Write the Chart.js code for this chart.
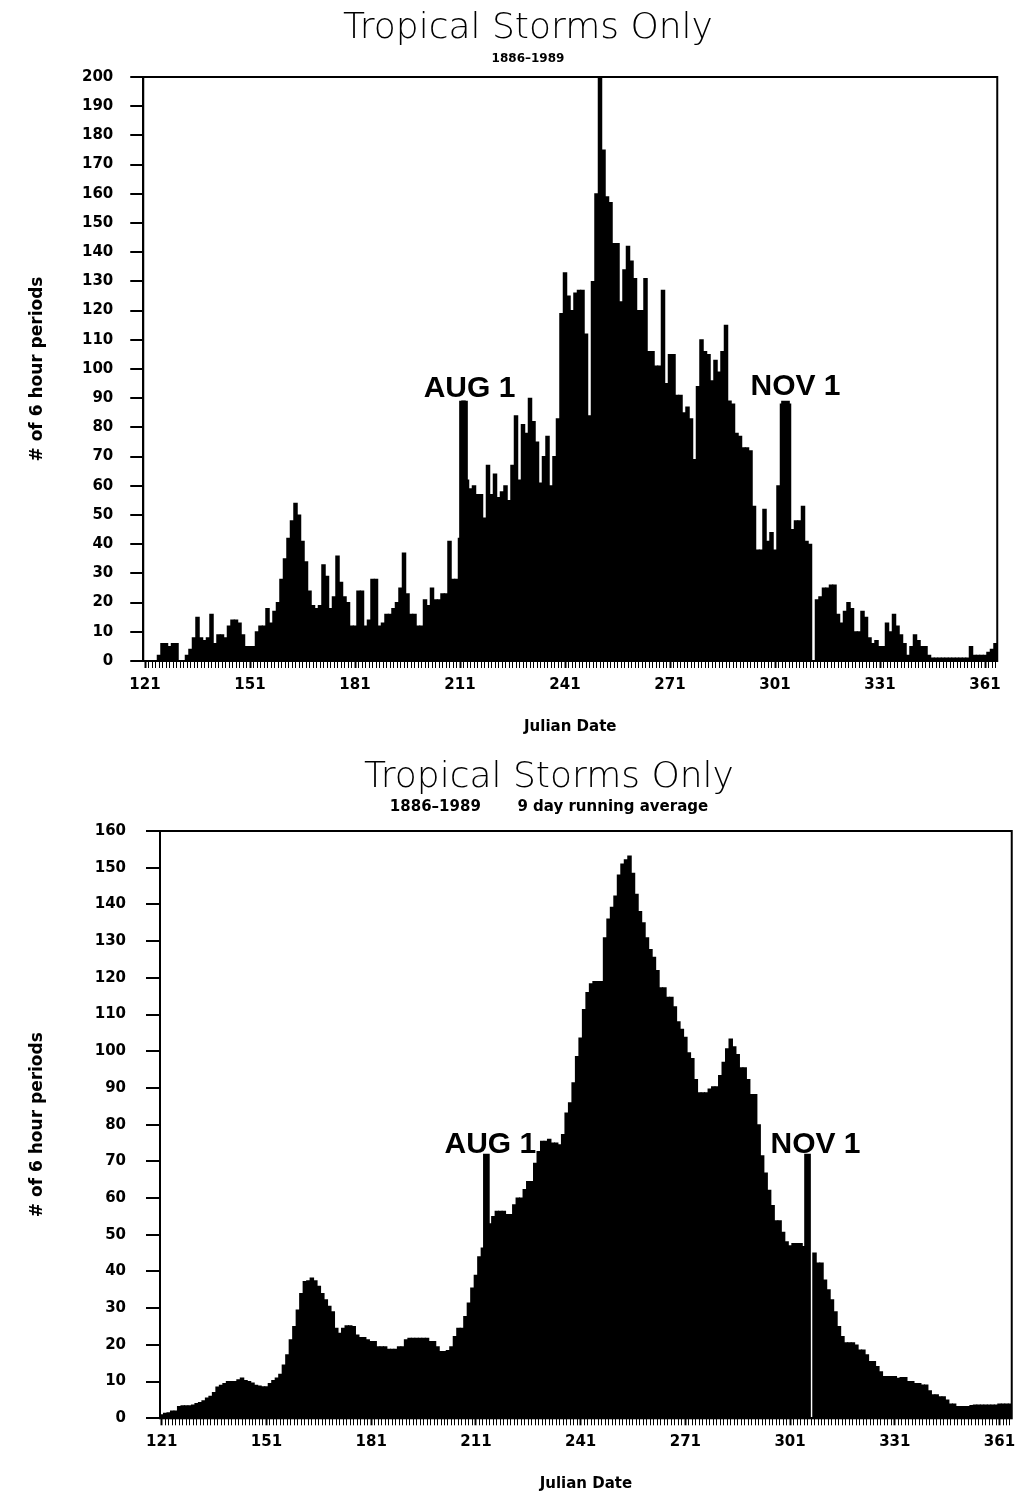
<!DOCTYPE html>
<html>
<head>
<meta charset="utf-8">
<title>Tropical Storms Only</title>
<script src="https://cdn.jsdelivr.net/npm/chart.js@4.4.1/dist/chart.umd.min.js"></script>
<style>
  html, body { margin: 0; padding: 0; background: #fff; }
  body { width: 1018px; height: 1494px; position: relative; overflow: hidden; }
  canvas { position: absolute; left: 0; }
  #dailyChart { top: 0; }
  #averageChart { top: 740px; }
</style>
</head>
<body>
<canvas id="dailyChart" width="1018" height="740"></canvas>
<canvas id="averageChart" width="1018" height="754"></canvas>
<script>
// Julian days on the x axis, May 1 (121) through day 364
const firstDay = 121;
const lastDay = 364;
const days = [];
for (let d = firstDay; d <= lastDay; d++) days.push(d);

// Labelled days on the x axis
const dayTickLabels = [121, 151, 181, 211, 241, 271, 301, 331, 361];

// Number of 6 hour periods per day, 1886-1989 (one value per day, 121..364)
const dailyCounts = [
  0, 0, 0, 0, 2, 6, 6, 5, 6, 6,
  0, 0, 2, 4, 8, 15, 8, 7, 8, 16,
  6, 9, 9, 8, 12, 14, 14, 13, 9, 5,
  5, 5, 10, 12, 12, 18, 13, 17, 20, 28,
  35, 42, 48, 54, 50, 41, 34, 24, 19, 18,
  19, 33, 29, 18, 22, 36, 27, 22, 20, 12,
  12, 24, 24, 12, 14, 28, 28, 12, 13, 16,
  16, 18, 20, 25, 37, 23, 16, 16, 12, 12,
  21, 19, 25, 21, 21, 23, 23, 41, 28, 28,
  42, 89, 62, 59, 60, 57, 57, 49, 67, 57,
  64, 56, 58, 60, 55, 67, 84, 62, 81, 78,
  90, 82, 75, 61, 70, 77, 60, 70, 83, 119,
  133, 125, 120, 126, 127, 127, 112, 84, 130, 160,
  200, 175, 159, 157, 143, 143, 123, 134, 142, 137,
  131, 120, 120, 131, 106, 106, 101, 101, 127, 95,
  105, 105, 91, 91, 85, 87, 83, 69, 94, 110,
  106, 105, 96, 103, 99, 106, 115, 89, 88, 78,
  77, 73, 73, 72, 53, 38, 38, 52, 41, 44,
  38, 60, 88, 88, 88, 45, 48, 48, 53, 41,
  40, 0, 21, 22, 25, 25, 26, 26, 16, 13,
  17, 20, 18, 10, 10, 17, 15, 8, 6, 7,
  5, 5, 13, 10, 16, 12, 9, 6, 2, 5,
  9, 7, 5, 5, 2, 1, 1, 1, 1, 1,
  1, 1, 1, 1, 1, 1, 5, 2, 2, 2,
  2, 3, 4, 6
];

// 9 day running average of the same counts
const runningAverage = [
  1, 1.4, 1.5, 2, 2, 3.2, 3.4, 3.4, 3.4, 3.6,
  4, 4.3, 4.8, 5.5, 6, 7, 8.5, 9, 9.5, 10,
  10, 10, 10.5, 11, 10.3, 10, 9.6, 9, 8.8, 8.6,
  8.6, 9.5, 10.3, 11, 12, 14.5, 17.3, 21.4, 25, 29.5,
  34, 37.3, 37.5, 38.2, 37.5, 36, 34, 32.3, 30.5, 29,
  24.5, 23.2, 24.5, 25.2, 25.2, 25, 22.7, 22, 22, 21.4,
  20.9, 20.9, 19.5, 19.5, 19.5, 18.8, 18.8, 18.8, 19.5, 19.5,
  21.4, 21.8, 21.8, 21.8, 21.8, 21.8, 21.8, 20.9, 20.9, 19.5,
  18.2, 18.2, 18.5, 19.5, 22.3, 24.5, 24.5, 27.7, 31.4, 35.5,
  39, 44, 46.4, 50, 53, 55, 56.4, 56.4, 56.4, 55.5,
  55.5, 58.2, 60, 60, 62.3, 64.5, 64.5, 69.5, 72.7, 75.5,
  75.5, 76, 75, 75, 74.5, 77.3, 83.2, 86, 91.4, 98.6,
  103.6, 111.4, 116, 118.4, 119, 119, 119, 130.9, 136, 139.2,
  142.3, 148, 151, 152.2, 153.2, 148.5, 142.8, 138.1, 135, 130.9,
  127.7, 125.6, 122, 117.3, 117.3, 114.7, 114.7, 112.1, 108, 106,
  103.8, 99.6, 98, 92.3, 88.7, 88.7, 88.7, 89.7, 90.3, 90.3,
  93.4, 97, 100.7, 103.3, 101.2, 99.1, 95.5, 95.5, 92.3, 88.2,
  88.2, 80, 71.5, 66.8, 62.1, 58, 53.8, 53.8, 50.7, 48.1,
  47, 47.6, 47.6, 47.6, 46.8, 46, 0, 45, 42.3, 42.3,
  37.7, 35, 32.3, 29, 25, 22.3, 20.6, 20.6, 20.6, 20,
  18.6, 18.6, 17.3, 15.5, 15.5, 14.1, 12.7, 11.4, 11.4, 11.4,
  11.4, 10.9, 11.1, 11.1, 10, 10, 9.5, 9.5, 9.1, 9.1,
  7.5, 6.4, 6.4, 5.9, 5.9, 5, 3.9, 3.9, 3.2, 3.2,
  3.2, 3.2, 3.5, 3.6, 3.6, 3.6, 3.6, 3.6, 3.6, 3.6,
  3.9, 3.9, 3.9, 3.9
];

// AUG 1 / NOV 1 marker bars
const markerNames = ['AUG 1', 'NOV 1'];
const dailyMarkerDays = [212, 304];
const dailyMarkerTops = [89, 89];
const averageMarkerDays = [214, 306];
const averageMarkerTops = [72, 72];

Chart.defaults.color = '#000';
Chart.defaults.font.family = '"DejaVu Sans", sans-serif';

const tickFont = { family: '"DejaVu Sans", sans-serif', size: 15, weight: 'bold' };

// box round the plot area
const framePlugin = {
  id: 'frame',
  afterDraw(chart) {
    const { ctx, chartArea: { left, top, right, bottom } } = chart;
    ctx.save();
    ctx.strokeStyle = '#000';
    ctx.lineWidth = 2;
    ctx.strokeRect(left, top, right - left, bottom - top);
    ctx.restore();
  }
};

// "AUG 1" / "NOV 1" text above the marker bars
const markerLabelPlugin = {
  id: 'markerLabels',
  afterDatasetsDraw(chart, args, opts) {
    const { ctx, scales: { x, y } } = chart;
    ctx.save();
    ctx.fillStyle = '#000';
    ctx.font = 'bold 30px "Liberation Sans", Arial, sans-serif';
    ctx.textAlign = 'center';
    ctx.textBaseline = 'alphabetic';
    opts.days.forEach((day, i) => {
      const px = x.getPixelForValue(days.indexOf(day));
      const py = y.getPixelForValue(opts.tops[i]);
      const [dx, dy] = opts.offsets[i];
      ctx.fillText(markerNames[i], px + dx, py - dy);
    });
    ctx.restore();
  }
};

function drawStormChart(canvasId, cfg) {
  const markerData = days.map(d => {
    const i = cfg.markerDays.indexOf(d);
    return i >= 0 ? [0, cfg.markerTops[i]] : null;
  });

  return new Chart(document.getElementById(canvasId), {
    type: 'bar',
    data: {
      labels: days,
      datasets: [
        {
          label: 'markers',
          data: markerData,
          backgroundColor: '#000',
          barThickness: cfg.markerWidth,
          grouped: false,
          order: 0
        },
        {
          label: cfg.seriesName,
          data: cfg.values,
          backgroundColor: '#000',
          borderWidth: 0,
          categoryPercentage: 1,
          barPercentage: 1,
          inflateAmount: 0.5,
          grouped: false,
          order: 1
        }
      ]
    },
    options: {
      responsive: false,
      animation: false,
      devicePixelRatio: 1,
      events: [],
      // the left padding also moves the centred titles to the right
      layout: { padding: { left: cfg.padLeft, right: cfg.padRight, top: 0, bottom: 0 } },
      plugins: {
        legend: { display: false },
        tooltip: { enabled: false },
        title: {
          display: true,
          text: 'Tropical Storms Only',
          color: '#000',
          font: { family: '"DejaVu Sans", sans-serif', size: 36, weight: '200', lineHeight: 1 },
          padding: cfg.titlePad
        },
        subtitle: {
          display: true,
          text: cfg.subtitle,
          color: '#000',
          font: { family: '"DejaVu Sans", sans-serif', size: cfg.subtitleSize, weight: 'bold' },
          padding: cfg.subtitlePad
        },
        markerLabels: { days: cfg.markerDays, tops: cfg.markerTops, offsets: cfg.labelOffsets }
      },
      scales: {
        x: {
          offset: true,
          grid: {
            offset: false,
            drawOnChartArea: false,
            drawTicks: true,
            tickLength: 7,
            tickColor: '#000',
            tickWidth: ctx => (ctx.index % 30 === 0 ? 2 : 1)
          },
          border: { display: true, color: '#000', width: 2 },
          ticks: {
            autoSkip: false,
            maxRotation: 0,
            minRotation: 0,
            padding: 8,
            font: tickFont,
            callback: function (value, index) {
              const d = days[index];
              return dayTickLabels.includes(d) ? String(d) : '';
            }
          },
          title: {
            display: true,
            text: 'Julian Date',
            font: { family: '"DejaVu Sans", sans-serif', size: 15, weight: 'bold' },
            padding: { top: 0, bottom: cfg.xTitlePad }
          },
          afterFit: scale => { scale.height = cfg.xHeight; }
        },
        y: {
          min: 0,
          max: cfg.yMax,
          ticks: { stepSize: 10, padding: cfg.yTickPad, font: tickFont },
          grid: {
            drawOnChartArea: false,
            drawTicks: true,
            tickLength: cfg.yTickLen,
            tickColor: '#000',
            lineWidth: 2
          },
          border: { display: true, color: '#000', width: 2 },
          title: {
            display: true,
            text: '# of 6 hour periods',
            font: { family: '"DejaVu Sans", sans-serif', size: 17, weight: 'bold' },
            // keeps the axis title at x = 38 whatever the left padding
            padding: { top: 38 - cfg.padLeft - 10.2, bottom: 0 }
          },
          afterFit: scale => { scale.width = cfg.plotLeft - cfg.padLeft; }
        }
      }
    },
    plugins: [framePlugin, markerLabelPlugin]
  });
}

drawStormChart('dailyChart', {
  seriesName: 'Daily count',
  values: dailyCounts,
  subtitle: '1886\u20131989',
  subtitleSize: 12,
  yMax: 200,
  plotLeft: 143.25,
  padLeft: 58.75,
  padRight: 20.75,
  titlePad: { top: 11, bottom: 0 },
  subtitlePad: { top: 4.8, bottom: 10.8 },
  xHeight: 79,
  xTitlePad: 4,
  yTickLen: 13,
  yTickPad: 17,
  markerDays: dailyMarkerDays,
  markerTops: dailyMarkerTops,
  markerWidth: 8,
  labelOffsets: [[6, 4], [10, 6]]
});

drawStormChart('averageChart', {
  seriesName: '9 day running average',
  values: runningAverage,
  subtitle: '1886\u20131989       9 day running average',
  subtitleSize: 15,
  yMax: 160,
  plotLeft: 160,
  padLeft: 84,
  padRight: 4,
  titlePad: { top: 20, bottom: 0 },
  subtitlePad: { top: 2, bottom: 15 },
  xHeight: 75.7,
  xTitlePad: 1,
  yTickLen: 14,
  yTickPad: 20,
  markerDays: averageMarkerDays,
  markerTops: averageMarkerTops,
  markerWidth: 6,
  labelOffsets: [[4, 1], [8, 1]]
});
</script>
</body>
</html>
